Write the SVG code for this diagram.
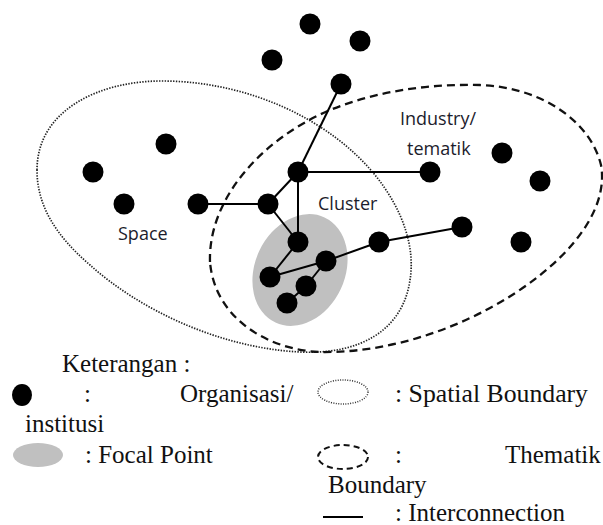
<svg xmlns="http://www.w3.org/2000/svg" width="603" height="525" viewBox="0 0 603 525">
<style>
.node{fill:#000}
.edge{stroke:#000;stroke-width:2;fill:none}
.dotted{fill:none;stroke:#222;stroke-width:1.7;stroke-dasharray:1.4 1.4}
.dashed{fill:none;stroke:#111;stroke-width:2.3;stroke-dasharray:8 5}
.lbl{font-family:"Open Sans","Liberation Sans",sans-serif;font-size:18px;fill:#1c1c2c}
.leg{font-family:"Liberation Serif","Times New Roman",serif;font-size:25px;fill:#111}
</style>
<rect width="603" height="525" fill="#fff"/>
<g id="focal-point">
<ellipse cx="300" cy="270" rx="45" ry="58" transform="rotate(25 300 270)" fill="#c0c0c0"/>
</g>
<g id="spatial-boundary">
<path class="dotted" d="M37,170 C37,110 100,80 165,81 C250,82 330,120 375,175 C405,212 415,250 410,280 C403,330 360,355 300,352 C220,348 140,310 90,265 C55,235 37,205 37,170 Z"/>
</g>
<g id="thematic-boundary">
<path class="dashed" d="M210,262 C208,200 260,140 330,110 C380,90 430,84 480,85 C540,87 590,120 601,165 C610,215 560,270 490,308 C440,335 380,353 320,352 C270,350 215,320 210,262 Z"/>
</g>
<g id="connectors">
<line class="edge" x1="198" y1="204" x2="268" y2="204"/>
<line class="edge" x1="268" y1="204" x2="298" y2="172"/>
<line class="edge" x1="268" y1="204" x2="298" y2="242"/>
<line class="edge" x1="298" y1="172" x2="298" y2="242"/>
<line class="edge" x1="298" y1="172" x2="430" y2="172"/>
<line class="edge" x1="298" y1="172" x2="341" y2="84"/>
<line class="edge" x1="298" y1="242" x2="270" y2="277"/>
<line class="edge" x1="270" y1="277" x2="326" y2="261"/>
<line class="edge" x1="326" y1="261" x2="379" y2="242"/>
<line class="edge" x1="379" y1="242" x2="462" y2="227"/>
<line class="edge" x1="326" y1="261" x2="306" y2="286"/>
<line class="edge" x1="306" y1="286" x2="287" y2="303"/>
</g>
<g id="n1"><circle class="node" cx="310" cy="24" r="10.5"/></g>
<g id="n2"><circle class="node" cx="272" cy="60" r="10.5"/></g>
<g id="n3"><circle class="node" cx="360" cy="41" r="10.5"/></g>
<g id="n4"><circle class="node" cx="341" cy="84" r="10.5"/></g>
<g id="n5"><circle class="node" cx="166" cy="144" r="10.5"/></g>
<g id="n6"><circle class="node" cx="93" cy="172" r="10.5"/></g>
<g id="n7"><circle class="node" cx="124" cy="204" r="10.5"/></g>
<g id="n8"><circle class="node" cx="198" cy="204" r="10.5"/></g>
<g id="n9"><circle class="node" cx="268" cy="204" r="10.5"/></g>
<g id="n10"><circle class="node" cx="298" cy="172" r="10.5"/></g>
<g id="n11"><circle class="node" cx="430" cy="172" r="10.5"/></g>
<g id="n12"><circle class="node" cx="502" cy="153" r="10.5"/></g>
<g id="n13"><circle class="node" cx="540" cy="181" r="10.5"/></g>
<g id="n14"><circle class="node" cx="298" cy="242" r="10.5"/></g>
<g id="n15"><circle class="node" cx="379" cy="242" r="10.5"/></g>
<g id="n16"><circle class="node" cx="462" cy="227" r="10.5"/></g>
<g id="n17"><circle class="node" cx="521" cy="242" r="10.5"/></g>
<g id="n18"><circle class="node" cx="326" cy="261" r="10.5"/></g>
<g id="n19"><circle class="node" cx="270" cy="277" r="10.5"/></g>
<g id="n20"><circle class="node" cx="306" cy="286" r="10.5"/></g>
<g id="n21"><circle class="node" cx="287" cy="303" r="10.5"/></g>
<g id="labels">
<text class="lbl" x="118" y="240">Space</text>
<text class="lbl" x="400" y="125">Industry/</text>
<text class="lbl" x="407" y="155">tematik</text>
<text class="lbl" x="318" y="210">Cluster</text>
</g>
<g id="legend">
<text class="leg" x="62" y="372">Keterangan :</text>
<ellipse cx="22" cy="395" rx="10" ry="11" fill="#000"/>
<text class="leg" x="84" y="402">:</text>
<text class="leg" x="180" y="402">Organisasi/</text>
<text class="leg" x="25" y="432">institusi</text>
<ellipse cx="343" cy="392" rx="25" ry="12" fill="none" stroke="#333" stroke-width="1.5" stroke-dasharray="1 1.4"/>
<text class="leg" x="395" y="402" textLength="193" lengthAdjust="spacingAndGlyphs">: Spatial Boundary</text>
<ellipse cx="38" cy="455" rx="25" ry="12" fill="#c0c0c0"/>
<text class="leg" x="85" y="463">: Focal Point</text>
<ellipse cx="343" cy="457" rx="25" ry="12" fill="none" stroke="#111" stroke-width="2" stroke-dasharray="6 4"/>
<text class="leg" x="395" y="463">:</text>
<text class="leg" x="505" y="463">Thematik</text>
<text class="leg" x="328" y="493">Boundary</text>
<line x1="323" y1="517" x2="363" y2="517" stroke="#000" stroke-width="2"/>
<text class="leg" x="395" y="521">: Interconnection</text>
</g>
</svg>
